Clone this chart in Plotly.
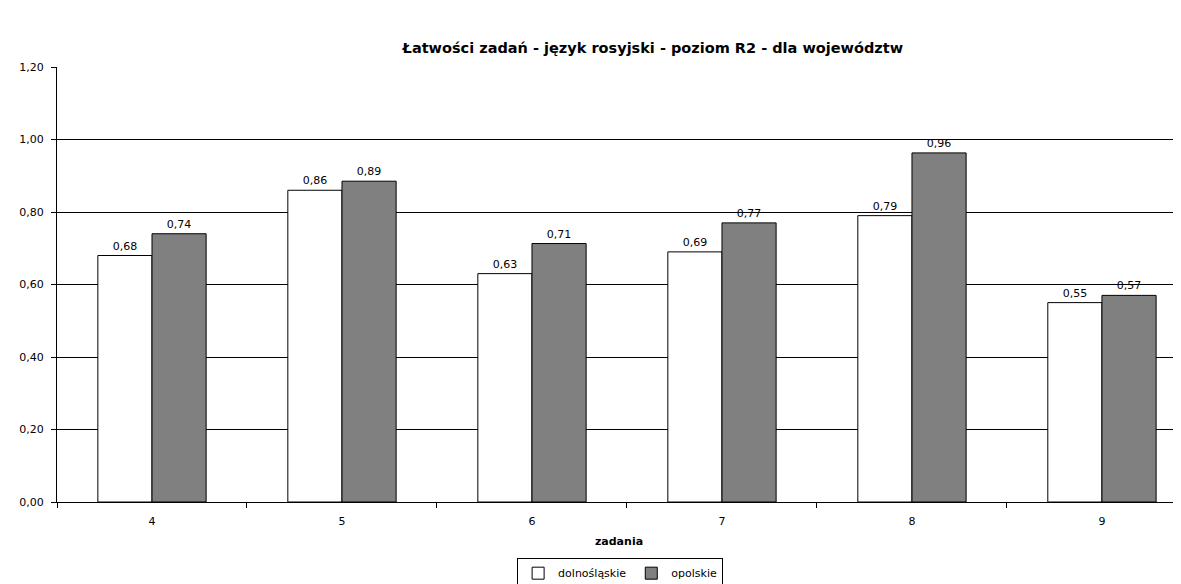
import plotly.graph_objects as go

categories = ["4", "5", "6", "7", "8", "9"]
dolnoslaskie = [0.68, 0.86, 0.63, 0.69, 0.79, 0.55]
opolskie = [0.74, 0.885, 0.713, 0.77, 0.963, 0.57]
y_ticks = [0, 0.2, 0.4, 0.6, 0.8, 1.0, 1.2]
y_labels = ["0,00", "0,20", "0,40", "0,60", "0,80", "1,00", "1,20"]

font = "DejaVu Sans, Liberation Sans, Arial, sans-serif"

fig = go.Figure()
fig.add_trace(go.Bar(
    x=categories, y=dolnoslaskie, name="dolnośląskie",
    marker=dict(color="white", line=dict(color="black", width=1)),
    texttemplate="%{y:.2f}", textposition="outside",
    textfont=dict(size=11, color="black", family=font), cliponaxis=False,
))
fig.add_trace(go.Bar(
    x=categories, y=opolskie, name="opolskie",
    marker=dict(color="#808080", line=dict(color="black", width=1)),
    texttemplate="%{y:.2f}", textposition="outside",
    textfont=dict(size=11, color="black", family=font), cliponaxis=False,
))

fig.update_layout(
    width=1181, height=584,
    separators=", ",
    paper_bgcolor="white", plot_bgcolor="white",
    font=dict(family=font, size=11, color="black"),
    title=dict(text="<b>Łatwości zadań - język rosyjski - poziom R2 - dla województw</b>",
               x=0.546, xanchor="center", y=0.932, yanchor="middle",
               font=dict(size=14.5, family=font)),
    margin=dict(l=49, r=8, t=59, b=90, autoexpand=False),
    barmode="group", bargap=0.43, bargroupgap=0,
    showlegend=True,
    legend=dict(orientation="h", x=0.501, xanchor="center", y=-0.128, yanchor="top",
                bordercolor="black", borderwidth=1, font=dict(size=11, family=font),
                itemwidth=30, tracegroupgap=0),
    xaxis=dict(
        title=dict(text="<b>zadania</b>", font=dict(size=11, family=font), standoff=10),
        range=[-0.5, 5.416],
        showline=True, linecolor="black", linewidth=1,
        ticks="outside", tickson="boundaries", ticklen=5, tickcolor="black",
        ticklabelstandoff=9,
        showgrid=False, automargin=False,
    ),
    yaxis=dict(
        range=[0, 1.2], tickvals=y_ticks, ticktext=y_labels,
        showline=True, linecolor="black", linewidth=1,
        ticks="outside", ticklen=5, tickcolor="black",
        ticklabelstandoff=5,
        showgrid=True, gridcolor="black", gridwidth=1,
        zeroline=False, automargin=False,
    ),
)

fig.write_html("out.html")
